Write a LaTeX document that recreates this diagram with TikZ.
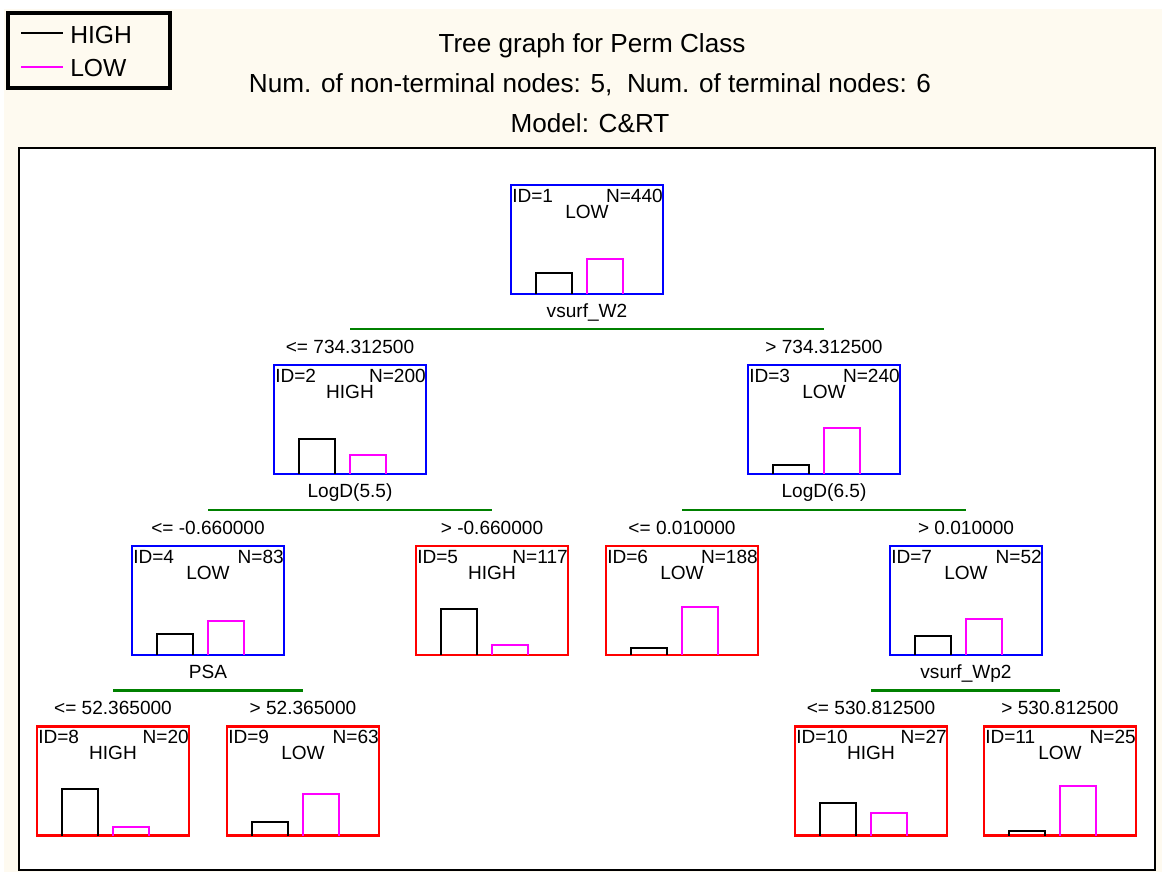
\documentclass[tikz,border=0pt]{standalone}
\usepackage{fontspec}
\setmainfont{Liberation Sans}
\usetikzlibrary{calc}
\definecolor{cream}{RGB}{254,250,240}
\definecolor{splitgreen}{RGB}{0,128,0}
\definecolor{lowmag}{RGB}{255,0,255}
\definecolor{nodeblue}{RGB}{0,0,255}
\definecolor{nodered}{RGB}{255,0,0}
\tikzset{
  tbox/.style={minimum width=114pt, minimum height=81.75pt, inner sep=0pt, outer sep=0pt, line width=1.8pt},
  ntext/.style={font=\fontsize{14.3}{14.3}\selectfont, inner sep=0pt},
  ltext/.style={font=\fontsize{14.3}{14.3}\selectfont, inner sep=0pt},
  ttext/.style={font=\fontsize{19.6}{19.6}\selectfont, inner sep=0pt},
  legtext/.style={font=\fontsize{18.5}{18.5}\selectfont, inner sep=0pt},
  hibar/.style={draw=black, line width=1.4pt},
  lobar/.style={draw=lowmag, line width=1.4pt},
  split/.style={draw=splitgreen, line width=1.6pt},
}
% #1 name, #2 left x, #3 top y, #4 colour, #5 ID, #6 N, #7 class, #8 black bar top, #9 magenta bar top
\newcommand\tnode[9]{%
  \node[tbox,draw=#4] (#1) at (#2+76,#3+54.5) {};
  \node[ntext,anchor=base west] at ($(#1.north west)+(1,17)$) {ID=#5};
  \node[ntext,anchor=base east] at ($(#1.north east)+(0,17)$) {N=#6};
  \node[ntext,anchor=base] at ($(#1.north)+(0,33)$) {#7};
  \draw[hibar] ($(#1.south west)+(25,0)$) -- (#2+25,#8) -- (#2+61,#8) -- ($(#1.south west)+(61,0)$);
  \draw[lobar] ($(#1.south west)+(76,0)$) -- (#2+76,#9) -- (#2+112,#9) -- ($(#1.south west)+(112,0)$);
}
\begin{document}
\begin{tikzpicture}[x=0.75pt,y=-0.75pt]
\useasboundingbox (0,0) rectangle (1162,872);
\fill[cream] (4,9) rectangle (1162,872);
\draw[line width=1.6pt, fill=white] (19,148) rectangle (1155,870);

% legend
\node[draw, line width=2.4pt, minimum width=121.5pt, minimum height=56.25pt, inner sep=0pt] (legend) at (89,50.5) {};
\coordinate (hiA) at (21,33);
\coordinate (loA) at (21,67);
\draw[line width=1.5pt, black] (hiA) -- ++(42,0);
\draw[line width=1.5pt, lowmag] (loA) -- ++(42,0);
\node[legtext, anchor=base west] (hitext) at (70,43) {HIGH};
\node[legtext, anchor=base west] (lotext) at (70,76) {LOW};

% titles
\node[ttext, anchor=base] (t1) at (592,52) {Tree graph for Perm Class};
\node[ttext, anchor=base] (t2) at (590,92) {Num. of non-terminal nodes: 5,\ \ Num. of terminal nodes: 6};
\node[ttext, anchor=base] (t3) at (590,132) {Model: C\&RT};

% nodes
\tnode{n1}{511}{185}{nodeblue}{1}{440}{LOW}{273}{259}
\tnode{n2}{274}{365}{nodeblue}{2}{200}{HIGH}{439}{455}
\tnode{n3}{748}{365}{nodeblue}{3}{240}{LOW}{465}{428}
\tnode{n4}{132}{546}{nodeblue}{4}{83}{LOW}{634}{621}
\tnode{n5}{416}{546}{nodered}{5}{117}{HIGH}{609}{645}
\tnode{n6}{606}{546}{nodered}{6}{188}{LOW}{648}{607}
\tnode{n7}{890}{546}{nodeblue}{7}{52}{LOW}{636}{619}
\tnode{n8}{37}{726.5}{nodered}{8}{20}{HIGH}{789}{827}
\tnode{n9}{227}{726.5}{nodered}{9}{63}{LOW}{822}{794}
\tnode{n10}{795}{726.5}{nodered}{10}{27}{HIGH}{803}{813}
\tnode{n11}{984}{726.5}{nodered}{11}{25}{LOW}{831}{786}

% split variables
\node[ltext, anchor=base] (s1) at ($(n1.south)+(0,23)$) {vsurf\_W2};
\node[ltext, anchor=base] (s2) at ($(n2.south)+(0,23)$) {LogD(5.5)};
\node[ltext, anchor=base] (s3) at ($(n3.south)+(0,23)$) {LogD(6.5)};
\node[ltext, anchor=base] (s4) at ($(n4.south)+(0,23)$) {PSA};
\node[ltext, anchor=base] (s7) at ($(n7.south)+(0,23)$) {vsurf\_Wp2};

% split lines
\draw[split] ($(n2.north)+(0,-36)$) -- ($(n3.north)+(0,-36)$);
\draw[split] ($(n4.north)+(0,-36)$) -- ($(n5.north)+(0,-36)$);
\draw[split] ($(n6.north)+(0,-36)$) -- ($(n7.north)+(0,-36)$);
\draw[split] ($(n8.north)+(0,-36)$) -- ($(n9.north)+(0,-36)$);
\draw[split] ($(n10.north)+(0,-36)$) -- ($(n11.north)+(0,-36)$);

% conditions
\node[ltext, anchor=base] (c2) at ($(n2.north)+(0,-12)$) {<= 734.312500};
\node[ltext, anchor=base] (c3) at ($(n3.north)+(0,-12)$) {> 734.312500};
\node[ltext, anchor=base] (c4) at ($(n4.north)+(0,-12)$) {<= -0.660000};
\node[ltext, anchor=base] (c5) at ($(n5.north)+(0,-12)$) {> -0.660000};
\node[ltext, anchor=base] (c6) at ($(n6.north)+(0,-12)$) {<= 0.010000};
\node[ltext, anchor=base] (c7) at ($(n7.north)+(0,-12)$) {> 0.010000};
\node[ltext, anchor=base] (c8) at ($(n8.north)+(0,-12)$) {<= 52.365000};
\node[ltext, anchor=base] (c9) at ($(n9.north)+(0,-12)$) {> 52.365000};
\node[ltext, anchor=base] (c10) at ($(n10.north)+(0,-12)$) {<= 530.812500};
\node[ltext, anchor=base] (c11) at ($(n11.north)+(0,-12)$) {> 530.812500};
\end{tikzpicture}
\end{document}
